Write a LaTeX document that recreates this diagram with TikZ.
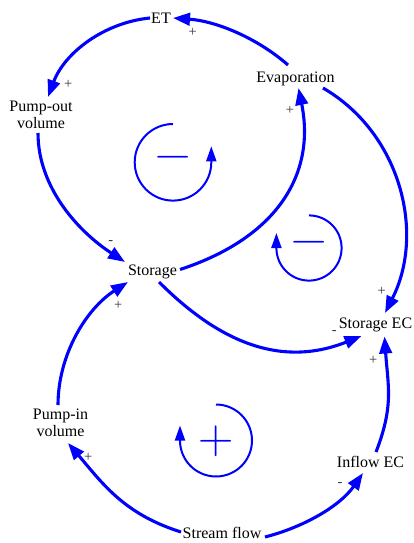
\documentclass[tikz,border=0pt]{standalone}
\usepackage{fontspec}
\setmainfont{Liberation Serif}
\newfontfamily\loopfont{Latin Modern Roman}
\usetikzlibrary{arrows.meta}
\begin{document}
\begin{tikzpicture}[x=1pt,y=-1pt,
  var/.style={font=\fontsize{16}{17}\selectfont, inner sep=0pt, text=black},
  var1/.style={var, anchor=base, text height=11pt, text depth=3.5pt},
  var2/.style={var, align=center},
  link/.style={draw=blue, line width=3.1pt, -{Triangle[length=17pt,width=12.5pt]}},
  pol/.style={font=\fontsize{14.5}{15}\selectfont, inner sep=0pt, text=black!80},
  loopsign/.style={font=\loopfont\fontsize{49}{49}\selectfont, inner sep=0pt, text=blue},
  looparc/.style={draw=blue, line width=2pt, -{Triangle[length=15pt,width=10pt]}},
]
\useasboundingbox (0,0) rectangle (414,543);

% variables
\node[var1] (ET) at (161,23.5) {ET};
\node[var1] (Evap) at (295.5,82) {Evaporation};
\node[var2] (PumpOut) at (41,115.2) {Pump-out\\volume};
\node[var1] (Storage) at (152.5,275.7) {Storage};
\node[var1] (StorEC) at (375.5,328) {Storage EC};
\node[var2] (PumpIn) at (60.5,423.2) {Pump-in\\volume};
\node[var1] (InflowEC) at (370.5,467) {Inflow EC};
\node[var1] (Stream) at (222,538) {Stream flow};

% causal links
\draw[link] ([shift={(-7.5,-17)}]Evap.base) .. controls +(-32,-28) and +(42,3) .. ([shift={(12,-5.5)}]ET.base);
\draw[link] ([shift={(-11,-5.5)}]ET.base) .. controls +(-46.5,4.6) and +(16.3,-43.7) .. ([shift={(7,-18.2)}]PumpOut.center);
\draw[link] ([shift={(-3,17.8)}]PumpOut.center) .. controls +(0,55) and +(-46,-30) .. ([shift={(-27.5,-13.7)}]Storage.base);
\draw[link] ([shift={(27.5,-6.2)}]Storage.base) .. controls +(95,-31) and +(17.6,88) .. ([shift={(3,6)}]Evap.base);
\draw[link] ([shift={(27.5,6)}]Evap.base) .. controls +(77.6,45) and +(40.5,-80) .. ([shift={(9.5,-15)}]StorEC.base);
\draw[link] ([shift={(6.5,6.3)}]Storage.base) .. controls +(56.6,56.6) and +(-83.7,33.3) .. ([shift={(-14,8)}]StorEC.base);
\draw[link] ([shift={(-2.5,-18.2)}]PumpIn.center) .. controls +(0,-50) and +(-42,27) .. ([shift={(-24.5,6.3)}]Storage.base);
\draw[link] ([shift={(-41,-6)}]Stream.base) .. controls +(-57,-18) and +(35,41) .. ([shift={(7.5,19.8)}]PumpIn.center);
\draw[link] ([shift={(43,-1)}]Stream.base) .. controls +(39,-10) and +(-23,33) .. ([shift={(-7.5,6)}]InflowEC.base);
\draw[link] ([shift={(5.5,-15)}]InflowEC.base) .. controls +(18,-46.5) and +(3.5,50) .. ([shift={(9,8.5)}]StorEC.base);

% polarities
\node[pol] (p1) at (192.7,32.7) {+};
\node[pol] (p2) at (68.3,84.3) {+};
\node[pol] (p3) at (290,110) {+};
\node[pol] (p4) at (110.7,242.7) {-};
\node[pol] (p5) at (381.7,291) {+};
\node[pol] (p6) at (118.3,305) {+};
\node[pol] (p7) at (334.3,332.3) {-};
\node[pol] (p8) at (373.3,360.7) {+};
\node[pol] (p9) at (88.3,457.3) {+};
\node[pol] (p10) at (340,484.3) {-};

% loop identifiers
\node[loopsign] (L1) at (173,162.5) {−};
\draw[looparc] ([shift={(0,-38.5)}]L1.center) arc[start angle=270, end angle=0, radius=38.3] -- ++(0,-16);
\node[loopsign] (L2) at (309,248) {−};
\draw[looparc] ([shift={(0,-32.6)}]L2.center) arc[start angle=270, end angle=540, radius=32.6] -- ++(0,-15);
\node[loopsign] (L3) at (216,441) {+};
\draw[looparc] ([shift={(0,-36.5)}]L3.center) arc[start angle=270, end angle=540, radius=36] -- ++(0,-15);
\end{tikzpicture}
\end{document}
